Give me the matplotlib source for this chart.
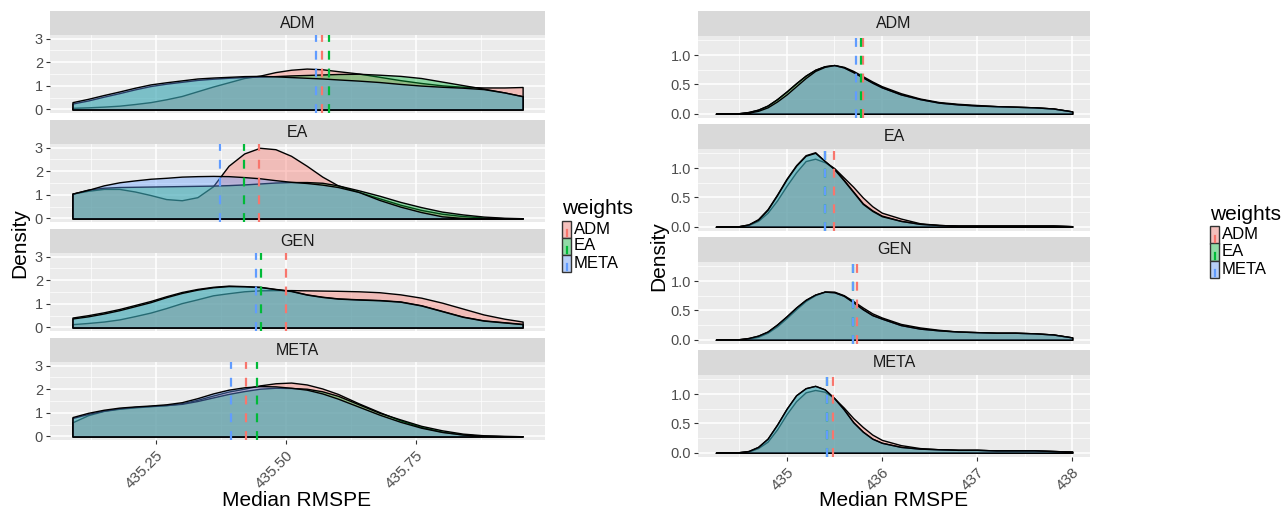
import matplotlib
matplotlib.use('Agg')
import matplotlib.pyplot as plt
from matplotlib.patches import Rectangle
from matplotlib.lines import Line2D
from matplotlib.colors import to_rgba

plt.rcParams['font.family'] = ['Liberation Sans', 'DejaVu Sans']

W, H = 1281, 513

weights = ['ADM', 'EA', 'META']
facets = ['ADM', 'EA', 'GEN', 'META']
colors = {'ADM': '#F8766D', 'EA': '#00BA38', 'META': '#619CFF'}

# ---- left chart: densities ----
left_x = [435.09, 435.12, 435.15, 435.18, 435.21, 435.24, 435.27, 435.30, 435.33,
          435.36, 435.39, 435.42, 435.45, 435.48, 435.51, 435.54, 435.57, 435.60,
          435.64, 435.68, 435.72, 435.76, 435.80, 435.84, 435.88, 435.92, 435.955]

L_ADM_adm = [0.07, 0.09, 0.12, 0.16, 0.23, 0.31, 0.43, 0.57, 0.77, 0.97, 1.15, 1.33, 1.43, 1.58,
             1.68, 1.73, 1.70, 1.62, 1.52, 1.38, 1.24, 1.12, 1.02, 0.96, 0.93, 0.93, 0.95]
L_ADM_ea = [0.25, 0.38, 0.54, 0.69, 0.85, 0.99, 1.09, 1.17, 1.25, 1.30, 1.34, 1.37, 1.39, 1.41,
            1.44, 1.46, 1.48, 1.50, 1.51, 1.47, 1.42, 1.33, 1.18, 1.03, 0.88, 0.72, 0.56]
L_ADM_meta = [0.31, 0.45, 0.61, 0.76, 0.92, 1.06, 1.15, 1.23, 1.31, 1.35, 1.38, 1.41, 1.42, 1.40,
              1.37, 1.34, 1.31, 1.27, 1.22, 1.16, 1.08, 1.01, 0.96, 0.92, 0.86, 0.72, 0.56]

L_EA_adm = [1.05, 1.17, 1.25, 1.25, 1.14, 0.99, 0.82, 0.77, 0.90, 1.36, 2.23, 2.75, 2.99, 2.93,
            2.65, 2.23, 1.77, 1.40, 1.12, 0.85, 0.58, 0.36, 0.20, 0.10, 0.04, 0.01, 0.01]
L_EA_ea = [1.05, 1.22, 1.30, 1.33, 1.34, 1.35, 1.36, 1.37, 1.38, 1.39, 1.41, 1.44, 1.48, 1.52,
           1.54, 1.54, 1.51, 1.40, 1.19, 0.96, 0.70, 0.48, 0.29, 0.17, 0.08, 0.03, 0.01]
L_EA_meta = [1.05, 1.21, 1.40, 1.53, 1.61, 1.68, 1.72, 1.77, 1.79, 1.80, 1.79, 1.75, 1.70, 1.62,
             1.55, 1.50, 1.43, 1.33, 1.12, 0.78, 0.50, 0.27, 0.09, 0.02, 0.0, 0.0, 0.0]

L_GEN_adm = [0.14, 0.19, 0.25, 0.34, 0.48, 0.63, 0.82, 1.03, 1.19, 1.36, 1.45, 1.53, 1.57, 1.58,
             1.58, 1.57, 1.56, 1.55, 1.53, 1.49, 1.40, 1.26, 1.05, 0.80, 0.55, 0.37, 0.25]
L_GEN_ea = [0.42, 0.52, 0.64, 0.78, 0.95, 1.12, 1.32, 1.50, 1.63, 1.72, 1.77, 1.75, 1.72, 1.63,
            1.55, 1.40, 1.30, 1.23, 1.19, 1.16, 1.10, 0.94, 0.70, 0.46, 0.30, 0.22, 0.15]
L_GEN_meta = [0.38, 0.47, 0.59, 0.73, 0.90, 1.07, 1.28, 1.46, 1.60, 1.70, 1.75, 1.74, 1.71, 1.62,
              1.54, 1.39, 1.29, 1.22, 1.18, 1.15, 1.09, 0.93, 0.69, 0.45, 0.29, 0.21, 0.14]

L_META_adm = [0.60, 0.90, 1.08, 1.17, 1.23, 1.28, 1.32, 1.40, 1.55, 1.73, 1.90, 2.02, 2.16, 2.25,
              2.28, 2.20, 2.03, 1.80, 1.40, 1.03, 0.68, 0.40, 0.20, 0.08, 0.03, 0.02, 0.01]
L_META_ea = [0.78, 0.95, 1.09, 1.19, 1.25, 1.29, 1.33, 1.38, 1.50, 1.65, 1.80, 1.92, 2.02, 2.06,
             2.05, 2.02, 1.91, 1.72, 1.36, 1.00, 0.72, 0.45, 0.26, 0.12, 0.05, 0.02, 0.01]
L_META_meta = [0.82, 1.00, 1.13, 1.22, 1.27, 1.31, 1.36, 1.45, 1.62, 1.82, 1.98, 2.08, 2.13, 2.12,
               2.06, 1.98, 1.82, 1.60, 1.26, 0.92, 0.62, 0.37, 0.19, 0.08, 0.03, 0.01, 0.0]

# group means (dashed lines), order ADM, EA, META
L_means_ADM = [435.570, 435.583, 435.557]
L_means_EA = [435.448, 435.419, 435.374]
L_means_GEN = [435.501, 435.453, 435.443]
L_means_META = [435.423, 435.445, 435.394]

# ---- right chart ----
right_x = [434.256, 434.4, 434.5, 434.6, 434.7, 434.8, 434.9, 435.0, 435.1, 435.2, 435.3, 435.4,
           435.5, 435.6, 435.7, 435.8, 435.9, 436.0, 436.2, 436.4, 436.6, 436.8, 437.0, 437.2,
           437.4, 437.6, 437.8, 438.0]

R_ADM_adm = [0, 0.005, 0.01, 0.03, 0.07, 0.14, 0.25, 0.38, 0.52, 0.65, 0.75, 0.81, 0.83, 0.80,
             0.73, 0.64, 0.55, 0.47, 0.35, 0.26, 0.20, 0.17, 0.15, 0.13, 0.12, 0.11, 0.09, 0.04]
R_ADM_ea = [0, 0.005, 0.01, 0.03, 0.07, 0.14, 0.25, 0.38, 0.52, 0.65, 0.75, 0.81, 0.83, 0.79,
            0.71, 0.62, 0.53, 0.45, 0.33, 0.25, 0.19, 0.16, 0.14, 0.13, 0.12, 0.11, 0.09, 0.04]
R_ADM_meta = [0, 0.004, 0.008, 0.02, 0.05, 0.11, 0.21, 0.33, 0.47, 0.61, 0.73, 0.80, 0.83, 0.79,
              0.71, 0.62, 0.53, 0.45, 0.33, 0.25, 0.19, 0.16, 0.14, 0.13, 0.12, 0.11, 0.09, 0.04]

R_EA_adm = [0, 0.005, 0.01, 0.03, 0.10, 0.24, 0.45, 0.70, 0.93, 1.12, 1.16, 1.10, 1.00, 0.84,
            0.68, 0.50, 0.35, 0.24, 0.14, 0.06, 0.03, 0.02, 0.02, 0.02, 0.02, 0.02, 0.02, 0.01]
R_EA_ea = [0, 0.005, 0.01, 0.04, 0.13, 0.30, 0.55, 0.82, 1.05, 1.22, 1.27, 1.12, 0.99, 0.80,
           0.60, 0.40, 0.28, 0.19, 0.10, 0.05, 0.03, 0.02, 0.02, 0.02, 0.02, 0.02, 0.02, 0.01]
R_EA_meta = [0, 0.005, 0.01, 0.04, 0.12, 0.29, 0.54, 0.81, 1.04, 1.21, 1.26, 1.12, 0.98, 0.79,
             0.59, 0.39, 0.27, 0.18, 0.10, 0.05, 0.03, 0.02, 0.02, 0.02, 0.02, 0.02, 0.02, 0.01]

R_GEN_adm = [0, 0.004, 0.008, 0.02, 0.05, 0.12, 0.23, 0.37, 0.52, 0.66, 0.76, 0.82, 0.82, 0.76,
             0.66, 0.55, 0.45, 0.38, 0.27, 0.21, 0.17, 0.14, 0.13, 0.12, 0.12, 0.11, 0.09, 0.04]
R_GEN_ea = [0, 0.005, 0.01, 0.03, 0.07, 0.14, 0.26, 0.40, 0.55, 0.68, 0.77, 0.82, 0.81, 0.75,
            0.64, 0.52, 0.42, 0.36, 0.25, 0.19, 0.16, 0.14, 0.13, 0.12, 0.12, 0.11, 0.09, 0.04]
R_GEN_meta = [0, 0.005, 0.01, 0.03, 0.07, 0.14, 0.26, 0.40, 0.55, 0.68, 0.77, 0.82, 0.81, 0.75,
              0.64, 0.52, 0.42, 0.36, 0.25, 0.19, 0.16, 0.14, 0.13, 0.12, 0.12, 0.11, 0.09, 0.04]

R_META_adm = [0, 0.005, 0.01, 0.02, 0.08, 0.19, 0.40, 0.66, 0.88, 1.03, 1.07, 1.04, 0.93, 0.77,
              0.59, 0.44, 0.31, 0.22, 0.13, 0.08, 0.06, 0.05, 0.05, 0.04, 0.04, 0.04, 0.03, 0.02]
R_META_ea = [0, 0.005, 0.01, 0.03, 0.10, 0.24, 0.48, 0.75, 0.98, 1.10, 1.14, 1.08, 0.93, 0.74,
             0.52, 0.36, 0.24, 0.17, 0.10, 0.07, 0.06, 0.05, 0.05, 0.04, 0.04, 0.04, 0.03, 0.02]
R_META_meta = [0, 0.005, 0.01, 0.03, 0.10, 0.24, 0.48, 0.75, 0.98, 1.10, 1.14, 1.08, 0.93, 0.74,
               0.52, 0.36, 0.24, 0.17, 0.10, 0.07, 0.06, 0.05, 0.05, 0.04, 0.04, 0.04, 0.03, 0.02]

R_means_ADM = [435.802, 435.782, 435.733]
R_means_EA = [435.496, 435.404, 435.404]
R_means_GEN = [435.740, 435.700, 435.700]
R_means_META = [435.490, 435.424, 435.424]

left_ticks = [435.25, 435.50, 435.75]
left_ticklabels = ['435.25', '435.50', '435.75']
right_ticks = [435, 436, 437, 438]
right_ticklabels = ['435', '436', '437', '438']

left_dens = {
    'ADM': [L_ADM_adm, L_ADM_ea, L_ADM_meta],
    'EA': [L_EA_adm, L_EA_ea, L_EA_meta],
    'GEN': [L_GEN_adm, L_GEN_ea, L_GEN_meta],
    'META': [L_META_adm, L_META_ea, L_META_meta],
}
left_means = {'ADM': L_means_ADM, 'EA': L_means_EA, 'GEN': L_means_GEN, 'META': L_means_META}
right_dens = {
    'ADM': [R_ADM_adm, R_ADM_ea, R_ADM_meta],
    'EA': [R_EA_adm, R_EA_ea, R_EA_meta],
    'GEN': [R_GEN_adm, R_GEN_ea, R_GEN_meta],
    'META': [R_META_adm, R_META_ea, R_META_meta],
}
right_means = {'ADM': R_means_ADM, 'EA': R_means_EA, 'GEN': R_means_GEN, 'META': R_means_META}

fig = plt.figure(figsize=(W / 100, H / 100), dpi=100)


def px_axes(x0, y0, x1, y1):
    return fig.add_axes([x0 / W, 1 - y1 / H, (x1 - x0) / W, (y1 - y0) / H])


def draw_chart(x0, x1, tops, strip_h, panel_h, xs, dens, means, xlim, ylim,
               xticks, xminor, xticklabels, yticks, yminor, yticklabels):
    for i, facet in enumerate(facets):
        top = tops[i]
        sax = px_axes(x0, top, x1, top + strip_h)
        sax.set_facecolor('#D9D9D9')
        sax.set_xticks([])
        sax.set_yticks([])
        for s in sax.spines.values():
            s.set_visible(False)
        sax.text(0.5, 0.47, facet, ha='center', va='center', fontsize=11.5, color='#1A1A1A',
                 transform=sax.transAxes)

        ax = px_axes(x0, top + strip_h, x1, top + strip_h + panel_h)
        ax.set_facecolor('#EBEBEB')
        for s in ax.spines.values():
            s.set_visible(False)
        ax.set_xlim(*xlim)
        ax.set_ylim(*ylim)
        ax.set_xticks(xticks)
        ax.set_xticks(xminor, minor=True)
        ax.set_yticks(yticks)
        ax.set_yticks(yminor, minor=True)
        ax.set_yticklabels(yticklabels, fontsize=10.5, color='#4D4D4D')
        ax.grid(which='major', color='white', lw=1.1)
        ax.grid(which='minor', color='white', lw=0.5)
        ax.set_axisbelow(True)
        ax.tick_params(which='minor', length=0)
        ax.tick_params(axis='y', which='major', length=3, width=0.8, color='#333333', pad=2)
        if i == len(facets) - 1:
            ax.set_xticklabels(xticklabels, fontsize=11, color='#4D4D4D', rotation=45,
                               ha='right', va='top', rotation_mode='anchor')
            ax.tick_params(axis='x', which='major', length=3, width=0.8, color='#333333', pad=3)
        else:
            ax.tick_params(axis='x', which='major', length=0, labelbottom=False)

        for w, ys in zip(weights, dens[facet]):
            ax.fill_between(xs, 0, ys, facecolor=to_rgba(colors[w], 0.4),
                            edgecolor='black', linewidth=1.0, zorder=2)
        for w, m in zip(weights, means[facet]):
            ax.axvline(m, color=colors[w], lw=1.6, ls=(0, (4, 4)), zorder=3)


def draw_legend(x, title_y, key_ys, key_w, key_h):
    fig.text(x / W, 1 - title_y / H, 'weights', fontsize=15, ha='left', va='center', color='black')
    for w, ky in zip(weights, key_ys):
        y0 = 1 - (ky + key_h / 2) / H
        fig.patches.append(Rectangle((x / W, y0), key_w / W, key_h / H, transform=fig.transFigure,
                                     facecolor='#F2F2F2', edgecolor='none'))
        fig.patches.append(Rectangle((x / W, y0), key_w / W, key_h / H, transform=fig.transFigure,
                                     facecolor=to_rgba(colors[w], 0.4), edgecolor='#333333', lw=1.0))
        cx = (x + key_w / 2) / W
        fig.lines.append(Line2D([cx, cx], [y0 + 2 / H, y0 + 8 / H], transform=fig.transFigure,
                                color=colors[w], lw=1.6))
        fig.text((x + key_w + 3) / W, 1 - ky / H, w, fontsize=12, ha='left', va='center',
                 color='black')


# left chart
draw_chart(50, 545, [11, 120, 229, 338], 24, 78, left_x, left_dens, left_means,
           (435.0468, 435.998), (-0.15, 3.15),
           left_ticks, [435.125, 435.375, 435.625, 435.875], left_ticklabels,
           [0, 1, 2, 3], [0.5, 1.5, 2.5], ['0', '1', '2', '3'])

# right chart
draw_chart(698, 1090, [11, 124, 237, 350], 24.5, 82, right_x, right_dens, right_means,
           (434.069, 438.187), (-0.0635, 1.3335),
           right_ticks, [434.5, 435.5, 436.5, 437.5], right_ticklabels,
           [0.0, 0.5, 1.0], [0.25, 0.75, 1.25], ['0.0', '0.5', '1.0'])

fig.text(297 / W, 1 - 501 / H, 'Median RMSPE', fontsize=15, ha='center', va='center')
fig.text(894 / W, 1 - 501 / H, 'Median RMSPE', fontsize=15, ha='center', va='center')
fig.text(20 / W, 1 - 243 / H, 'Density', fontsize=15, ha='center', va='center', rotation=90)
fig.text(659 / W, 1 - 256 / H, 'Density', fontsize=15, ha='center', va='center', rotation=90)

draw_legend(562, 208, [229, 246, 263], 9, 17)
draw_legend(1210, 215, [235, 252, 269], 9, 17)

fig.savefig('out.png', dpi=100)
